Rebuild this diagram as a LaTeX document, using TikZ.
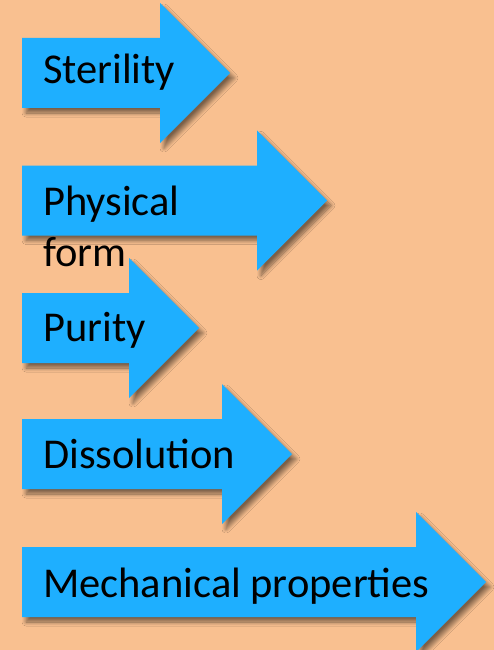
\documentclass[tikz,border=0pt]{standalone}
\usepackage{fontspec}
\setmainfont{Carlito}
\usetikzlibrary{shadows.blur}
\definecolor{bgpeach}{RGB}{249,192,144}
\definecolor{arrowblue}{RGB}{30,175,255}
\tikzset{
  bigarrow/.style={fill=arrowblue, draw=none,
    blur shadow={shadow xshift=4pt, shadow yshift=-5pt, shadow blur radius=4pt, shadow opacity=50, shadow blur steps=10}},
  lbl/.style={anchor=base west, inner sep=0pt, font=\fontsize{42.5}{51}\selectfont, text=black, align=left}
}
\newcommand{\myarrow}[2]{% center y, head x
  \path[bigarrow] (22,#1-35) -- (#2,#1-35) -- (#2,#1-70) -- (#2+70,#1) -- (#2,#1+70) -- (#2,#1+35) -- (22,#1+35) -- cycle;}
\begin{document}
\begin{tikzpicture}[x=1pt,y=-1pt]
\useasboundingbox[fill=bgpeach] (0,0) rectangle (494,650);
\myarrow{73}{160}
\myarrow{200.5}{257}
\myarrow{328}{129}
\myarrow{454}{222}
\myarrow{582}{416}
\node[lbl] (t1) at (43,84) {Sterility};
\node[lbl] (t2) at (43,215) {Physical};
\node[lbl] (t2b) at (43,266) {form};
\node[lbl] (t3) at (43,341) {Purity};
\node[lbl] (t4) at (43,468) {Dissolution};
\node[lbl] (t5) at (43,597) {Mechanical properties};
\end{tikzpicture}
\end{document}
